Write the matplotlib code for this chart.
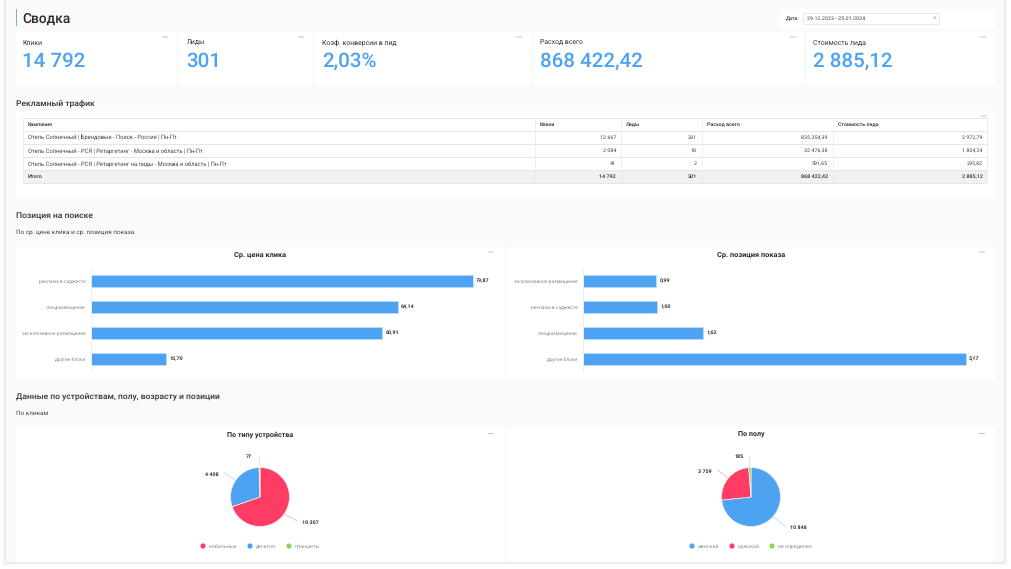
import matplotlib
matplotlib.use("Agg")
import matplotlib.pyplot as plt
from matplotlib.patches import Rectangle, Circle
import numpy as np

plt.rcParams['font.family'] = ['Roboto', 'DejaVu Sans']
plt.rcParams['text.hinting'] = 'no_hinting'

W, H = 1012, 569

# ---------- data ----------
page_title = "Сводка"
date_label = "Дата"
date_value = "29.12.2023 - 25.01.2024"

kpi_labels = ["Клики", "Лиды", "Коэф. конверсии в лид", "Расход всего", "Стоимость лида"]
kpi_values = ["14 792", "301", "2,03%", "868 422,42", "2 885,12"]

section_traffic = "Рекламный трафик"
table_header = ["Кампания", "Клики", "Лиды", "Расход всего", "Стоимость лида"]
table_campaigns = [
    "Отель Солнечный | Брендовые - Поиск - Россия | Пн-Пт",
    "Отель Солнечный - РСЯ | Ретаргетинг - Москва и область | Пн-Пт",
    "Отель Солнечный - РСЯ | Ретаргетинг на лиды - Москва и область | Пн-Пт",
]
table_clicks = ["12 667", "2 084", "41"]
table_leads = ["281", "18", "2"]
table_spend = ["835 354,39", "32 476,38", "591,65"]
table_cpl = ["2 972,79", "1 804,24", "295,82"]
table_total = ["Итого", "14 792", "301", "868 422,42", "2 885,12"]

section_position = "Позиция на поиске"
sub_position = "По ср. цене клика и ср. позиция показа"
cpc_title = "Ср. цена клика"
cpc_cats = ["реклама в саджесте", "спецразмещение", "эксклюзивное размещение", "другие блоки"]
cpc_vals = [79.87, 64.14, 60.91, 15.70]
pos_title = "Ср. позиция показа"
pos_cats = ["эксклюзивное размещение", "реклама в саджесте", "спецразмещение", "другие блоки"]
pos_vals = [0.99, 1.00, 1.62, 5.17]

section_devices = "Данные по устройствам, полу, возрасту и позиции"
sub_devices = "По кликам"
dev_title = "По типу устройства"
dev_cats = ["мобильные", "десктоп", "планшеты"]
dev_vals = [10307, 4408, 77]
sex_title = "По полу"
sex_cats = ["женский", "мужской", "не определен"]
sex_vals = [10848, 3759, 185]

BLUE, RED, GREEN = "#4da2f1", "#ff3d64", "#8ad554"
INK = "#2b2b2b"
GREY = "#8c8c8c"

# ---------- helpers ----------
def fpx(px):
    return px * 0.72

fig = plt.figure(figsize=(W / 100, H / 100), dpi=100, facecolor="white")
bg = fig.add_axes([0, 0, 1, 1], zorder=0)
bg.set_xlim(0, W)
bg.set_ylim(H, 0)
bg.axis("off")

def rect(x0, y0, x1, y1, fc="white", ec="none", lw=0, z=1, alpha=None):
    bg.add_patch(Rectangle((x0, y0), x1 - x0, y1 - y0, facecolor=fc, edgecolor=ec,
                           linewidth=lw, zorder=z, alpha=alpha))

def txt(x, y, s, px=6, color=INK, ha="left", weight="normal", z=5):
    # y is the optical middle of the line: place on the baseline so that
    # neighbouring labels stay aligned whatever letters they contain
    bg.text(x, y + 0.34 * px, s, fontsize=fpx(px), color=color, ha=ha, va="baseline",
            fontweight=weight, zorder=z)

def dots(x, y):
    for dx in (-2, 0, 2):
        bg.add_patch(Circle((x + dx, y), 0.55, facecolor="#8a8a8a", edgecolor="none", zorder=6))

def axes_px(x0, y0, x1, y1):
    a = fig.add_axes([x0 / W, 1 - y1 / H, (x1 - x0) / W, (y1 - y0) / H], zorder=2)
    a.patch.set_alpha(0)
    return a

# ---------- page ----------
for i, al in zip((4, 3, 2, 1), (0.012, 0.018, 0.025, 0.035)):
    rect(6 - i, 0, 1004 + i, 562 + i, fc="#000000", z=0.5, alpha=al)
rect(6, 0, 1004, 562, fc="#fafafa", z=0.8)

rect(16, 9, 17, 26, fc="#7ea8ee", z=2)
txt(22, 18, page_title, 13.7, weight="medium")

# date filter
rect(780, 9, 995, 27.5)
txt(786, 18.5, date_label, 5.4, weight="medium")
rect(803.5, 13, 939.5, 24, ec="#e4e4e4", lw=0.6, z=2)
txt(807.5, 18.5, date_value, 5.4, color="#444444")
txt(934.5, 18.5, "×", 7, color="#b5b5b5", ha="center")

# KPI cards
card_x = [(16, 176), (180, 312), (316, 531), (534, 803), (807, 995)]
menu_x = [165, 301, 519, 793, 983]
for (x0, x1), mx, lab, val in zip(card_x, menu_x, kpi_labels, kpi_values):
    rect(x0, 32, x1, 84)
    txt(x0 + 6.5, 42.5, lab, 6.9, color="#333333")
    txt(x0 + 6, 59.5, val, 20.5, color=BLUE, weight="medium")
    dots(mx, 37)

# table
txt(16, 102, section_traffic, 8.5, color="#333333", weight="medium")
rect(16, 111, 995, 197)
dots(984, 116)
col_x = [23, 535, 621, 702, 833, 987.5]
row_y = [118, 130.5, 144, 157, 170, 183]
rows = list(zip(table_campaigns, table_clicks, table_leads, table_spend, table_cpl))
rect(col_x[0], row_y[4], col_x[-1], row_y[5], fc="#f1f1f1", z=2)
for y in row_y:
    bg.plot([col_x[0], col_x[-1]], [y, y], color="#e6e6e6", lw=0.7, zorder=3)
for x in col_x:
    bg.plot([x, x], [row_y[0], row_y[-1]], color="#ececec", lw=0.6, zorder=3)
for j, head in enumerate(table_header):
    txt(col_x[j] + 5, (row_y[0] + row_y[1]) / 2, head, 5.2, weight="medium")
for i, row in enumerate(rows):
    yc = (row_y[i + 1] + row_y[i + 2]) / 2
    txt(col_x[0] + 5, yc, row[0], 5.75, color="#444444")
    for j in range(1, 5):
        txt(col_x[j + 1] - 5, yc, row[j], 5.4, color="#444444", ha="right")
yc = (row_y[4] + row_y[5]) / 2
txt(col_x[0] + 5, yc, table_total[0], 5.4, weight="medium")
for j in range(1, 5):
    txt(col_x[j + 1] - 5, yc, table_total[j], 5.4, ha="right", weight="medium")

# position section
txt(16, 215, section_position, 8.5, color="#333333", weight="medium")
txt(16, 232, sub_position, 6.4, color="#444444")

def bar_panel(x0, x1, title, cats, vals, bar_x0, px_for_max):
    rect(x0, 247, x1, 379)
    txt((x0 + x1) / 2 + 0.5, 254, title, 7.4, ha="center", weight="bold")
    dots(x1 - 13, 252)
    ax = axes_px(bar_x0, 268, x1, 372)
    ypos = np.arange(len(vals))
    ax.barh(ypos, vals, height=0.46, color=BLUE, edgecolor="#bcdcfa", linewidth=0.6)
    ax.set_xlim(0, max(vals) * (x1 - bar_x0) / px_for_max)
    ax.set_ylim(len(vals) - 0.5, -0.5)
    ax.set_yticks(ypos, cats)
    ax.set_xticks([])
    ax.tick_params(axis="y", length=0, pad=4, labelsize=fpx(4.85), labelcolor=GREY)
    for s in ("top", "right", "bottom"):
        ax.spines[s].set_visible(False)
    ax.spines["left"].set_color("#eeeeee")
    ax.spines["left"].set_linewidth(0.7)
    for y, v in zip(ypos, vals):
        ax.annotate(f"{v:.2f}".replace(".", ","), (v, y), xytext=(2.2, 0),
                    textcoords="offset points", va="center", ha="left",
                    fontsize=fpx(5.4), fontweight="bold", color="#333333")

bar_panel(16, 504, cpc_title, cpc_cats, cpc_vals, 91, 382)
bar_panel(507, 995, pos_title, pos_cats, pos_vals, 583, 383)

# devices section
txt(16, 396, section_devices, 8.5, color="#333333", weight="medium")
txt(16, 413, sub_devices, 6.4, color="#444444")

def fmt_int(v):
    return f"{v:,}".replace(",", " ")

def pie_panel(x0, x1, title, cats, vals, colors, cx, label_offsets, legend_x):
    rect(x0, 428, x1, 562)
    txt((x0 + x1) / 2 + 0.5, 434.5, title, 7.1, ha="center", weight="bold")
    dots(x1 - 13, 433.5)
    R = 29.5
    ax = axes_px(cx - R, 497 - R, cx + R, 497 + R)
    wedges, _ = ax.pie(vals, colors=colors, startangle=90, counterclock=False, radius=1.0,
                       wedgeprops=dict(edgecolor="#f4f4f4", linewidth=0.5))
    ax.set_xlim(-1, 1)
    ax.set_ylim(-1, 1)
    ax.set_aspect("equal")
    for w, v, c, (dx, dy) in zip(wedges, vals, colors, label_offsets):
        ang = np.deg2rad((w.theta1 + w.theta2) / 2)
        sx, sy = cx + R * np.cos(ang), 497 - R * np.sin(ang)
        tx, ty = cx + dx, 497 + dy
        side = 1 if dx > 0 else -1
        end_x = tx - side * 12.5 if abs(dx) > 20 else tx + 10
        bg.plot([sx, end_x], [sy, ty - (1 if abs(dx) > 20 else 0)], color=c, lw=0.6, alpha=0.4, zorder=3)
        txt(tx, ty, fmt_int(v), 5.4, ha="center", weight="bold", color="#333333")
    for c, name, lx in zip(colors, cats, legend_x):
        bg.add_patch(Circle((lx, 546), 2.6, facecolor=c, edgecolor="none", zorder=4))
        txt(lx + 6, 546, name, 5.2, color=GREY)

pie_panel(16, 504, dev_title, dev_cats, dev_vals, [RED, BLUE, GREEN], 260,
          [(50, 25), (-48, -23), (-11, -41)], [203, 250, 289])
pie_panel(507, 995, sex_title, sex_cats, sex_vals, [BLUE, RED, GREEN], 751,
          [(47, 30), (-46, -26), (-12, -41)], [692, 732, 772])

fig.savefig("out.png", dpi=100, facecolor="white")
